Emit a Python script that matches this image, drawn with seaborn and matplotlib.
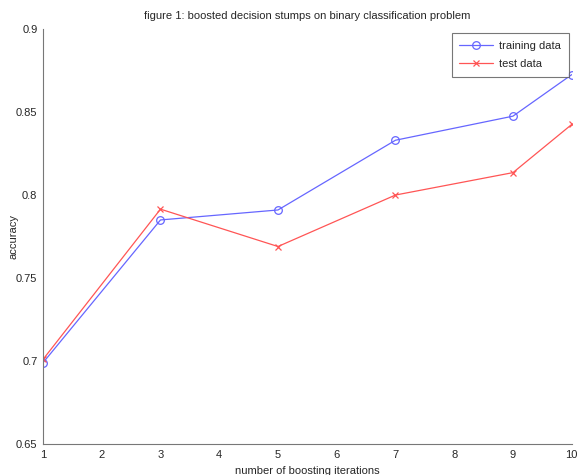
import matplotlib
matplotlib.use("Agg")
import matplotlib.pyplot as plt
import seaborn as sns
import pandas as pd

iterations = [1, 3, 5, 7, 9, 10]
train_acc = [0.699, 0.785, 0.791, 0.833, 0.8475, 0.8725]
test_acc = [0.701, 0.7915, 0.769, 0.800, 0.8135, 0.8425]
x_ticks = [1, 2, 3, 4, 5, 6, 7, 8, 9, 10]
y_ticks = [0.65, 0.7, 0.75, 0.8, 0.85, 0.9]
y_labels = ["0.65", "0.7", "0.75", "0.8", "0.85", "0.9"]

sns.set_style("white")
plt.rcParams['font.family'] = ['Liberation Sans', 'DejaVu Sans']

fig = plt.figure(figsize=(5.81, 4.75), dpi=100)
ax = fig.add_axes([0.074, 0.065, 0.910, 0.874])

df = pd.DataFrame({"it": iterations, "train": train_acc, "test": test_acc})
sns.lineplot(data=df, x="it", y="train", ax=ax, color="#6666ff", lw=0.9,
             marker="o", markersize=5.5, markerfacecolor="none",
             markeredgecolor="#6666ff", markeredgewidth=0.9, label="training data")
sns.lineplot(data=df, x="it", y="test", ax=ax, color="#ff5555", lw=0.9,
             marker="x", markersize=4.5, markeredgecolor="#ff5555",
             markeredgewidth=0.9, label="test data")

ax.set_xlim(1, 10)
ax.set_ylim(0.65, 0.9)
ax.set_xticks(x_ticks)
ax.set_xticklabels([str(t) for t in x_ticks], fontsize=8)
ax.set_yticks(y_ticks)
ax.set_yticklabels(y_labels, fontsize=8)
ax.tick_params(direction="in", length=4, width=0.8, color="#777777", pad=4)
for s in ["top", "right"]:
    ax.spines[s].set_visible(False)
for s in ["left", "bottom"]:
    ax.spines[s].set_color("#777777")
    ax.spines[s].set_linewidth(0.8)

ax.set_xlabel("number of boosting iterations", fontsize=8)
ax.set_ylabel("accuracy", fontsize=8)
ax.yaxis.set_label_coords(-0.047, 0.5)
ax.xaxis.set_label_coords(0.5, -0.052)
ax.set_title("figure 1: boosted decision stumps on binary classification problem",
             fontsize=8, pad=7)

leg = ax.legend(loc="upper right", bbox_to_anchor=(0.995, 0.99), fontsize=8,
                frameon=True, fancybox=False, edgecolor="#555555",
                borderaxespad=0.0, handlelength=3.0, handletextpad=0.6,
                borderpad=0.7, labelspacing=0.75)
leg.get_frame().set_linewidth(0.8)

fig.savefig("out.png", dpi=100)
